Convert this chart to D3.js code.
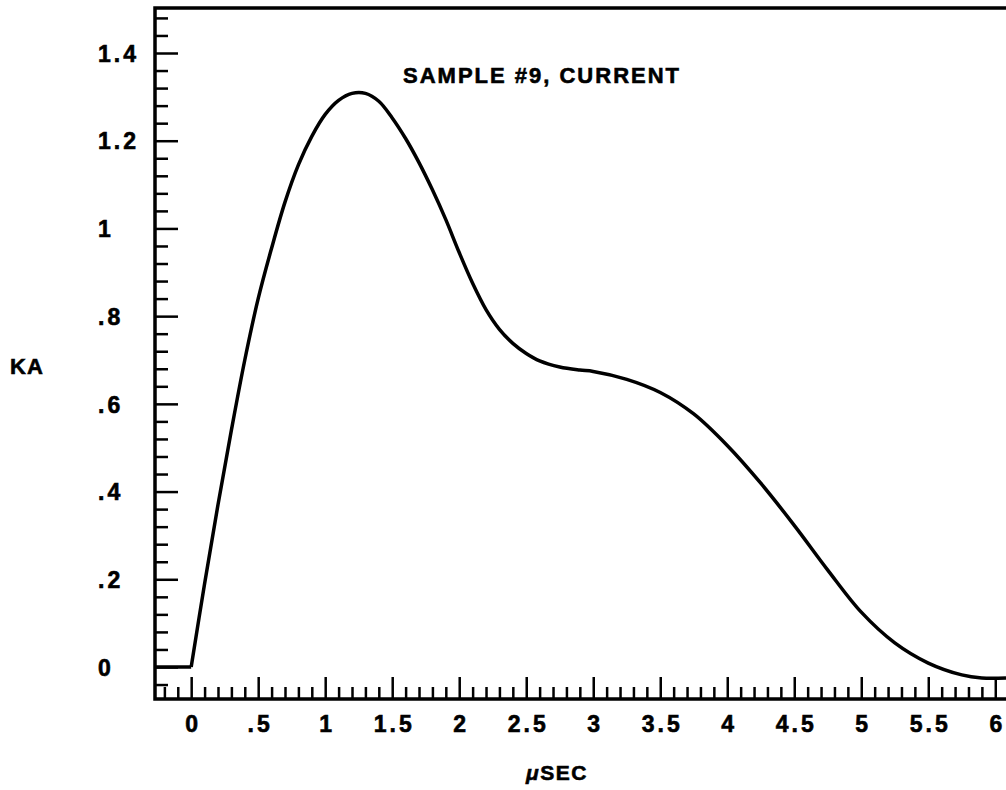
<!DOCTYPE html>
<html>
<head>
<meta charset="utf-8">
<script src="https://cdn.jsdelivr.net/npm/d3@7"></script>
<style>
  body { margin: 0; background: #fff; }
  text { font-family: "Liberation Sans", Arial, sans-serif; font-weight: bold; fill: #000; stroke: #000; stroke-width: 0.6px; }
</style>
</head>
<body>
<script>
const title = "SAMPLE #9, CURRENT";

// data (time in microseconds, current in kA)
const baselineTime = [-0.27, 0];
const baselineKA = [0, 0];

const timeUs = [0, 0.1, 0.2, 0.3, 0.4, 0.5, 0.6, 0.7, 0.8, 0.9, 1.0, 1.1, 1.2, 1.3, 1.4, 1.5, 1.6, 1.7, 1.8, 1.9, 2.0, 2.1, 2.2, 2.3, 2.4, 2.5, 2.6, 2.75, 2.9, 3.0, 3.25, 3.5, 3.75, 4.0, 4.25, 4.5, 4.75, 5.0, 5.25, 5.5, 5.75, 5.9, 6.08];
const currentKA = [0, 0.19, 0.37, 0.54, 0.70, 0.84, 0.955, 1.06, 1.145, 1.21, 1.26, 1.292, 1.308, 1.308, 1.29, 1.252, 1.205, 1.15, 1.088, 1.02, 0.945, 0.875, 0.815, 0.77, 0.738, 0.715, 0.698, 0.684, 0.677, 0.674, 0.656, 0.626, 0.577, 0.505, 0.419, 0.323, 0.221, 0.125, 0.055, 0.009, -0.018, -0.025, -0.025];

// tick labels
const xTickValues = [0, 0.5, 1, 1.5, 2, 2.5, 3, 3.5, 4, 4.5, 5, 5.5, 6];
const xTickLabels = ["0", ".5", "1", "1.5", "2", "2.5", "3", "3.5", "4", "4.5", "5", "5.5", "6"];
const yTickValues = [0, 0.2, 0.4, 0.6, 0.8, 1, 1.2, 1.4];
const yTickLabels = ["0", ".2", ".4", ".6", ".8", "1", "1.2", "1.4"];

//size and frame
const canvWidth = 1006;
const canvHeight = 790;
const frame = {left: 155, top: 8, right: 1006, bottom: 699};

const svg = d3.select("body").append("svg")
  .attr("width", canvWidth)
  .attr("height", canvHeight);

//**************************************************************************
//Scales
const xScale = d3.scaleLinear().domain([-0.27, 6.08]).range([frame.left, frame.right]);
const yScale = d3.scaleLinear().domain([0, 1.4]).range([667, 53]);

//minor tick positions
const xMinor = d3.range(-2, 61).map(i => i / 10).filter(v => Math.round(v * 10) % 5 !== 0);
const yMinor = d3.range(-1, 38).map(i => i * 0.04).filter(v => Math.round(v * 100) % 20 !== 0);

//**************************************************************************
//Axes
const tickLabel = (sel) => sel.selectAll("text")
  .style("font-size", "23px")
  .style("letter-spacing", "3px");

// x axis - minor ticks
svg.append("g")
  .attr("transform", `translate(0,${frame.bottom})`)
  .call(d3.axisBottom(xScale).tickValues(xMinor).tickSize(-12).tickFormat(""))
  .call(g => g.select(".domain").remove())
  .call(g => g.selectAll("line").attr("stroke-width", 2.5));

// x axis - major ticks with labels
svg.append("g")
  .attr("transform", `translate(0,${frame.bottom})`)
  .call(d3.axisBottom(xScale).tickValues(xTickValues).tickSize(-22)
    .tickFormat((d, i) => xTickLabels[i]))
  .call(g => g.select(".domain").remove())
  .call(g => g.selectAll("line").attr("stroke-width", 2.5))
  .call(tickLabel)
  .call(g => g.selectAll("text").attr("dy", 0).attr("y", 33).attr("dx", 1.5));

// y axis - minor ticks
svg.append("g")
  .attr("transform", `translate(${frame.left},0)`)
  .call(d3.axisLeft(yScale).tickValues(yMinor).tickSize(-13).tickFormat(""))
  .call(g => g.select(".domain").remove())
  .call(g => g.selectAll("line").attr("stroke-width", 2.5));

// y axis - major ticks with labels
svg.append("g")
  .attr("transform", `translate(${frame.left},0)`)
  .call(d3.axisLeft(yScale).tickValues(yTickValues).tickSize(-23)
    .tickFormat((d, i) => yTickLabels[i]))
  .call(g => g.select(".domain").remove())
  .call(g => g.selectAll("line").attr("stroke-width", 2.5))
  .call(tickLabel)
  .call(g => g.selectAll("text")
    .attr("text-anchor", "start")
    .attr("x", 98 - frame.left)
    .attr("dy", "0.36em"));

// frame lines (left, bottom, top)
svg.append("path")
  .attr("d", `M${frame.right},${frame.top}H${frame.left}V${frame.bottom}H${frame.right}`)
  .attr("fill", "none")
  .attr("stroke", "#000")
  .attr("stroke-width", 3.5);

//**************************************************************************
//Title and Labels
svg.append("text")
  .attr("x", 403)
  .attr("y", 83)
  .style("font-size", "22px")
  .style("letter-spacing", "2px")
  .text(title);

svg.append("text")
  .attr("x", 10)
  .attr("y", 374)
  .style("font-size", "22px")
  .style("letter-spacing", "1px")
  .text("KA");

const xLabel = svg.append("text")
  .attr("x", 557)
  .attr("y", 780)
  .attr("text-anchor", "middle")
  .style("font-size", "21px")
  .style("letter-spacing", "1.5px");
xLabel.append("tspan").style("font-style", "italic").text("μ");
xLabel.append("tspan").text("SEC");

//**************************************************************************
//Trace
const baseline = baselineTime.map((t, i) => [t, baselineKA[i]]);
const pulse = timeUs.map((t, i) => [t, currentKA[i]]);

svg.append("path")
  .datum(baseline)
  .attr("fill", "none")
  .attr("stroke", "#000")
  .attr("stroke-width", 3.5)
  .attr("d", d3.line().x(d => xScale(d[0])).y(d => yScale(d[1])));

svg.append("path")
  .datum(pulse)
  .attr("fill", "none")
  .attr("stroke", "#000")
  .attr("stroke-width", 3.5)
  .attr("stroke-linejoin", "round")
  .attr("d", d3.line().curve(d3.curveCatmullRom.alpha(0.5))
    .x(d => xScale(d[0])).y(d => yScale(d[1])));
</script>
</body>
</html>
